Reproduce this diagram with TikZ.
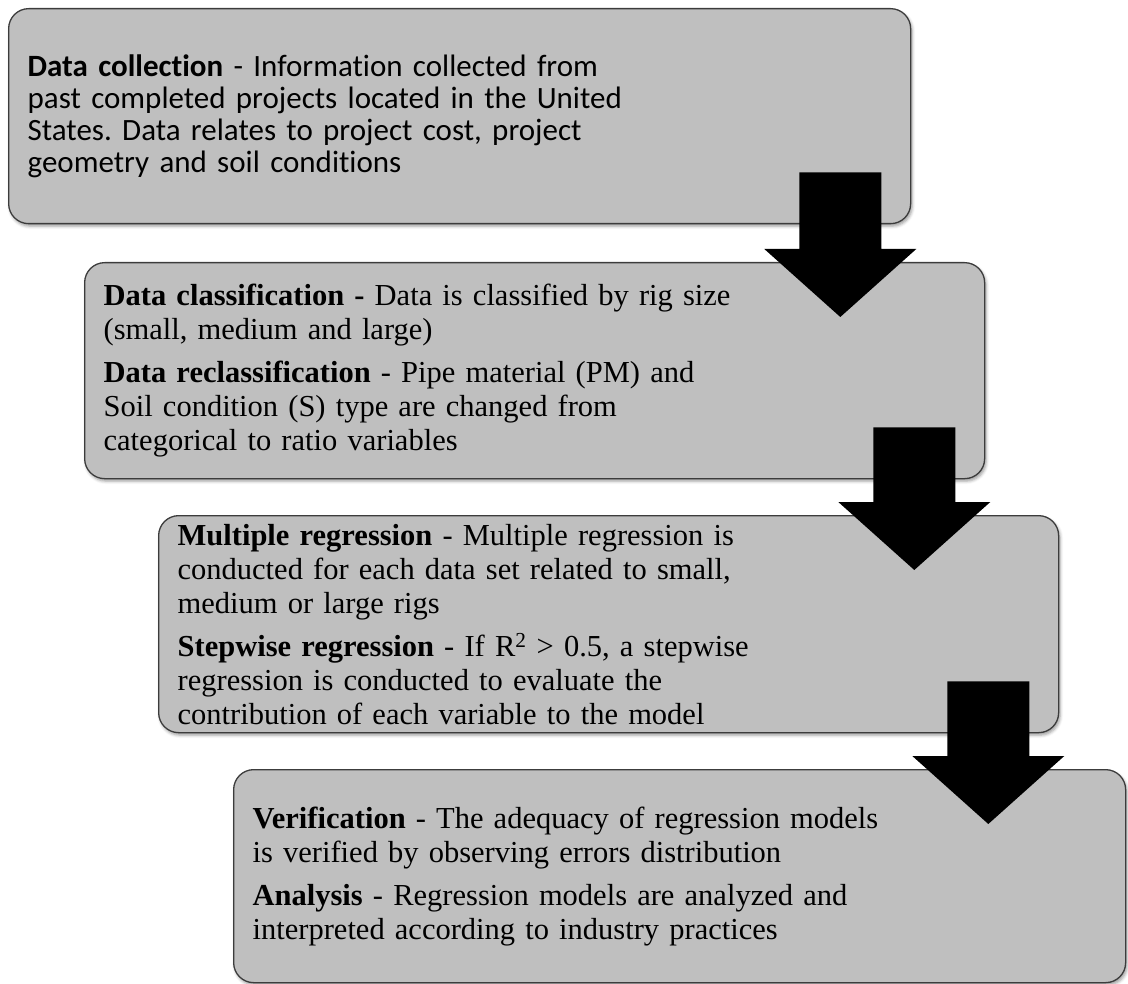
\documentclass[tikz,border=0pt]{standalone}
\usepackage{fontspec}
\setmainfont{Liberation Serif}
\newfontfamily\carlito[Ligatures=NoCommon]{Carlito}
\usepackage{tikz}
\usetikzlibrary{calc, shadows.blur}
\definecolor{boxfill}{HTML}{BFBFBF}
\definecolor{boxline}{HTML}{3C3C3C}
\frenchspacing

\begin{document}
\begin{tikzpicture}[
    x=1pt, y=-1pt,
    stage/.style={draw=boxline, line width=1.3pt, fill=boxfill, rounded corners=20pt, anchor=north west, inner xsep=19pt, inner ysep=0pt, align=left, font=\fontsize{30.5}{34}\selectfont, blur shadow={shadow xshift=1.5pt, shadow yshift=-2.5pt, shadow blur radius=3pt, shadow opacity=40}},
    bigarrow/.style={fill=black},
]
    \useasboundingbox (0,0) rectangle (1128,984);

    % Data collection
    \node[stage, text width=864pt, minimum height=215pt, font=\carlito\fontsize{31}{32}\selectfont] (collect) at (8,8) {\textbf{Data collection} - Information collected from\\past completed projects located in the United\\States. Data relates to project cost, project\\geometry and soil conditions};

    % Data classification
    \node[stage, text width=862pt, minimum height=216pt] (classify) at (84,262) {\textbf{Data classification -} Data is classified by rig size\\(small, medium and large)\\[9pt]\textbf{Data reclassification} - Pipe material (PM) and\\Soil condition (S) type are changed from\\categorical to ratio variables};

    % Regression
    \node[stage, text width=862pt, minimum height=217pt] (regress) at (158,515) {\textbf{Multiple regression} - Multiple regression is\\conducted for each data set related to small,\\medium or large rigs\\[9pt]\textbf{Stepwise regression} - If R\textsuperscript{2} > 0.5, a stepwise\\regression is conducted to evaluate the\\contribution of each variable to the model};

    % Verification
    \node[stage, text width=854pt, minimum height=213pt] (verify) at (233,769) {\textbf{Verification} - The adequacy of regression models\\is verified by observing errors distribution\\[9pt]\textbf{Analysis} - Regression models are analyzed and\\interpreted according to industry practices};

    % Block arrows between stages
    \foreach \src/\dst in {collect/classify, classify/regress, regress/verify} {
        \coordinate (top) at ($(\src.south east)+(-71,-52)$);
        \coordinate (tip) at ($(top |- \dst.north)+(0,55)$);
        \fill[bigarrow] ($(top)+(-41,0)$) -- ($(top)+(41,0)$) -- ($(tip)+(41,-68)$) -- ($(tip)+(76,-68)$) -- (tip) -- ($(tip)+(-76,-68)$) -- ($(tip)+(-41,-68)$) -- cycle;
    }
\end{tikzpicture}
\end{document}
